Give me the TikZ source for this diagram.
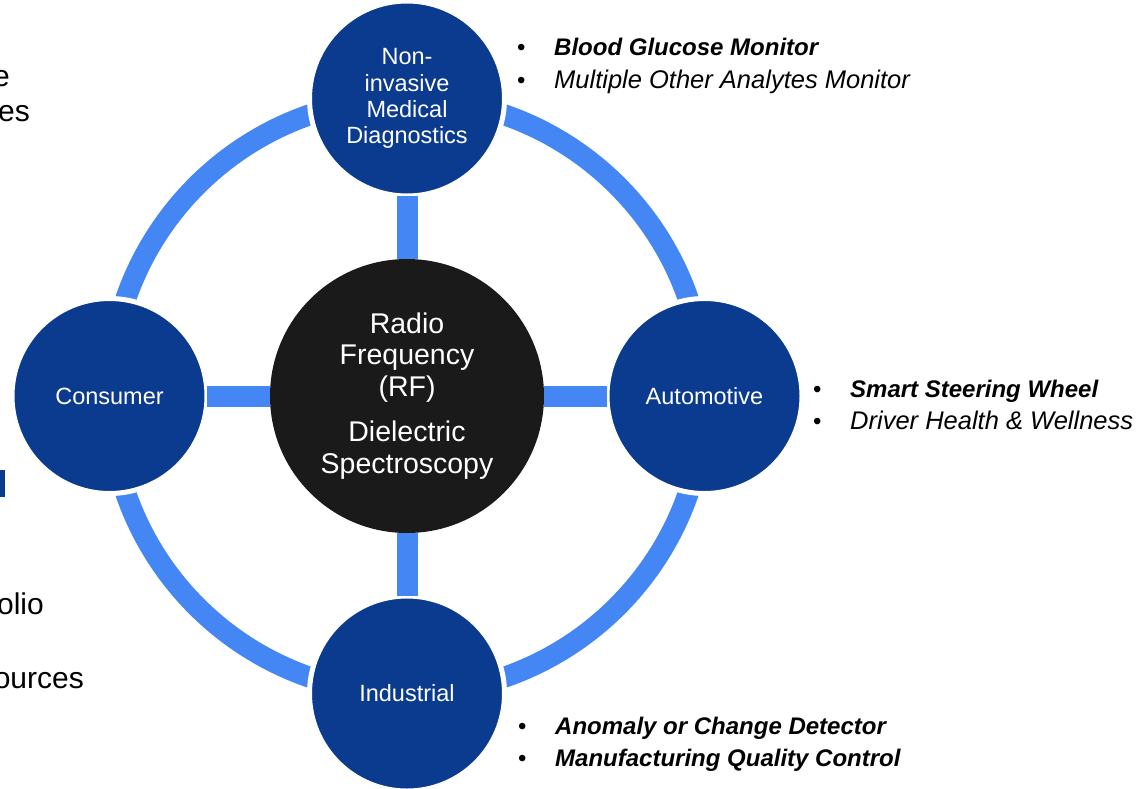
\documentclass[tikz,border=0pt]{standalone}
\usepackage{fontspec}
\setmainfont{Liberation Sans}
\usetikzlibrary{positioning}
\definecolor{navy}{HTML}{0B3B8E}
\definecolor{sky}{HTML}{4487F4}
\definecolor{core}{HTML}{1A1A1A}
\newcommand{\bul}{\makebox[37pt][l]{\textbullet}}
\newcommand{\plain}[1]{{\fontsize{25.5}{32}\selectfont\textit{#1}}}

\begin{document}
\begin{tikzpicture}[
  x=1pt, y=-1pt,
  node distance=63pt,
  hub/.style={
    circle, fill=core, minimum size=274pt, inner sep=0pt, outer sep=0pt,
    text=white, align=center, font=\fontsize{28.5}{31.5}\selectfont,
  },
  sector/.style={
    circle, fill=navy, draw=white, line width=5pt, minimum size=195pt,
    inner sep=0pt, outer sep=0pt,
    text=white, align=center, font=\fontsize{23.5}{26.3}\selectfont,
  },
  ring/.style={draw=sky, line width=21pt},
  spoke/.style={draw=sky, line width=21pt},
  uses/.style={anchor=west, align=left, inner sep=0pt, font=\fontsize{24}{32.5}\selectfont},
  cutoff/.style={anchor=base east, inner sep=0pt, font=\fontsize{30}{36}\selectfont},
]
\useasboundingbox (0,0) rectangle (1142,788);
\clip (0,0) rectangle (1142,788);

% outer ring behind everything
\coordinate (c) at (407,396);
\draw[ring] (c) circle[radius=297.5];

\node[hub] (rf) at (c) {Radio\\Frequency\\(RF)\\[14pt]Dielectric\\Spectroscopy};
\node[sector, above=of rf] (med) {Non-\\invasive\\Medical\\Diagnostics};
\node[sector, right=of rf] (auto) {Automotive};
\node[sector, below=of rf] (ind) {Industrial};
\node[sector, left=of rf] (cons) {Consumer};

\draw[spoke] (rf) -- (med);
\draw[spoke] (rf) -- (auto);
\draw[spoke] (rf) -- (ind);
\draw[spoke] (rf) -- (cons);

% application lists
\node[uses] (medlist) at (517,66) {\bul\textbf{\textit{Blood Glucose Monitor}}\\\bul\plain{Multiple Other Analytes Monitor}};
\node[uses] (autolist) at (813,405) {\bul\textbf{\textit{Smart Steering Wheel}}\\\bul\plain{Driver Health \& Wellness}};
\node[uses] (indlist) at (518,744.5) {\bul\textbf{\textit{Anomaly or Change Detector}}\\\bul\textbf{\textit{Manufacturing Quality Control}}};

% text running in from the left edge
\node[cutoff] (frag1) at (10,86) {e};
\node[cutoff] (frag2) at (30,121) {es};
\fill[navy] (0,470) rectangle (5,497);
\node[cutoff] (frag3) at (44,614) {olio};
\node[cutoff] (frag4) at (84,688) {ources};
\end{tikzpicture}
\end{document}
